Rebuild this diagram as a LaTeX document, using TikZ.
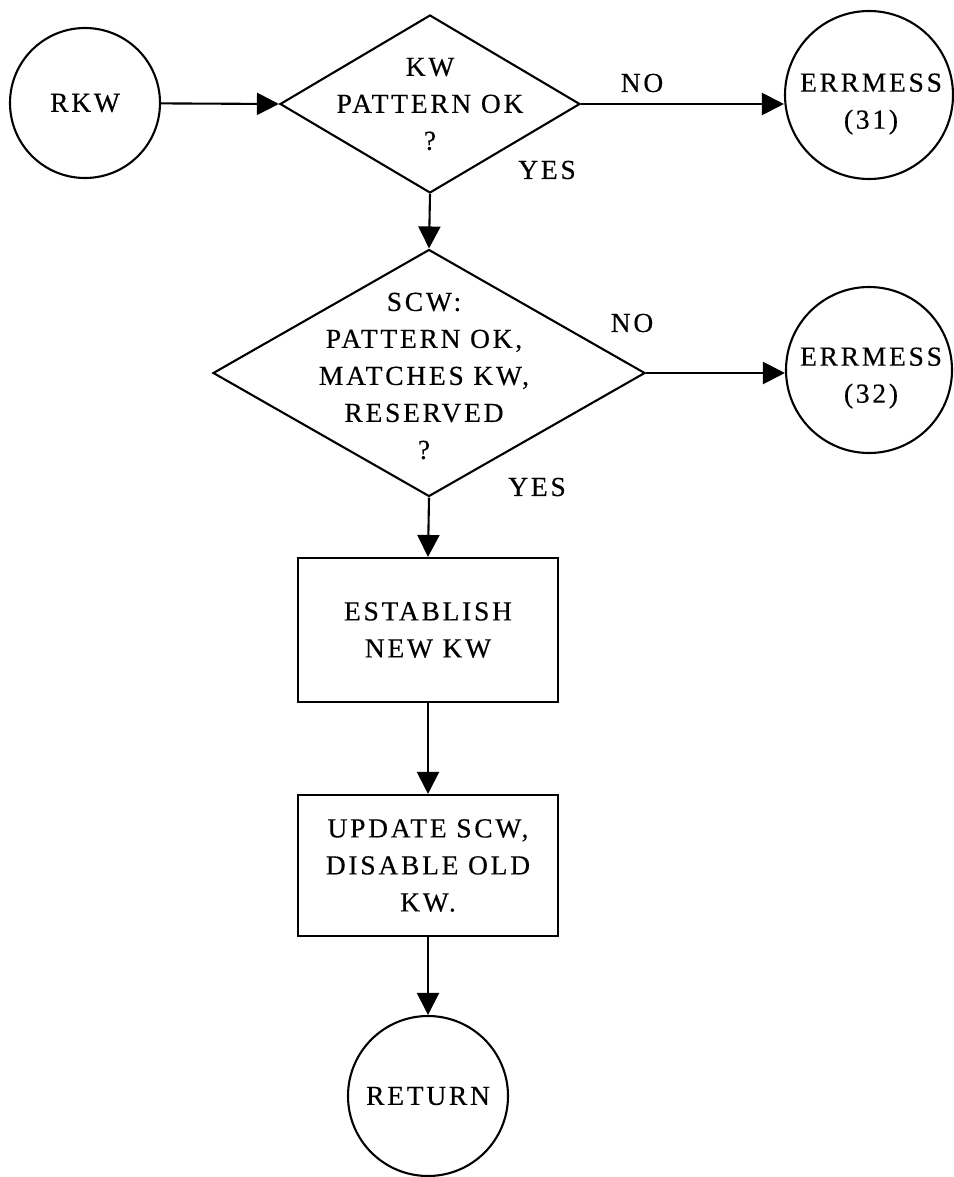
\documentclass[tikz,border=0pt]{standalone}
\usepackage{fontspec}
\setmainfont{Liberation Serif}[LetterSpace=10,FakeBold=0.4]
\usetikzlibrary{shapes.geometric,arrows.meta}
\begin{document}
\begin{tikzpicture}[x=1pt,y=-1pt,
  line width=2.1pt,
  txt/.style={font=\fontsize{27.5}{37}\selectfont, align=center, inner sep=0pt},
  terminal/.style={circle, draw, minimum size=#1, inner sep=0pt, txt},
  decision/.style={diamond, draw, inner sep=0pt},
  process/.style={rectangle, draw, minimum width=260pt, txt},
  flow/.style={-{Triangle[length=22pt,width=22pt]}}
]
\useasboundingbox (0,0) rectangle (953,1177);

% start
\node[terminal=150pt] (rkw) at (85,103) {RKW};

% first test
\node[decision, minimum width=300pt, minimum height=178pt] (d1) at (430,104) {};
\node[txt] (d1t) at (430,104) {KW\\PATTERN OK\\?};
\node[terminal=168pt] (e1) at (869,95) {};
\node[txt] (e1t) at (871,104) {ERRMESS\\(31)};
\node[txt] (no1) at (642,83) {NO};
\node[txt] (yes1) at (547,170) {YES};

% second test
\node[decision, minimum width=432pt, minimum height=247pt] (d2) at (429,373) {};
\node[txt] (d2t) at (424,376) {SCW:\\PATTERN OK,\\MATCHES KW,\\RESERVED\\?};
\node[terminal=166pt] (e2) at (869,370) {};
\node[txt] (e2t) at (871,378) {ERRMESS\\(32)};
\node[txt] (no2) at (632,323) {NO};
\node[txt] (yes2) at (537,487) {YES};

% actions
\node[process, minimum height=144pt] (b1) at (428,630) {ESTABLISH\\NEW KW};
\node[process, minimum height=141pt] (b2) at (428,865.5) {UPDATE SCW,\\DISABLE OLD\\KW.};

% end
\node[terminal=160pt] (ret) at (428,1096) {RETURN};

% connectors
\draw[flow] (rkw) -- (d1.west);
\draw[flow] (d1.east) -- (d1.east -| e1.west);
\draw[flow] (d1.south) -- (d2.north);
\draw[flow] (d2.east) -- (d2.east -| e2.west);
\draw[flow] (d2.south) -- (b1.north);
\draw[flow] (b1.south) -- (b2.north);
\draw[flow] (b2.south) -- (ret.north);
\end{tikzpicture}
\end{document}
